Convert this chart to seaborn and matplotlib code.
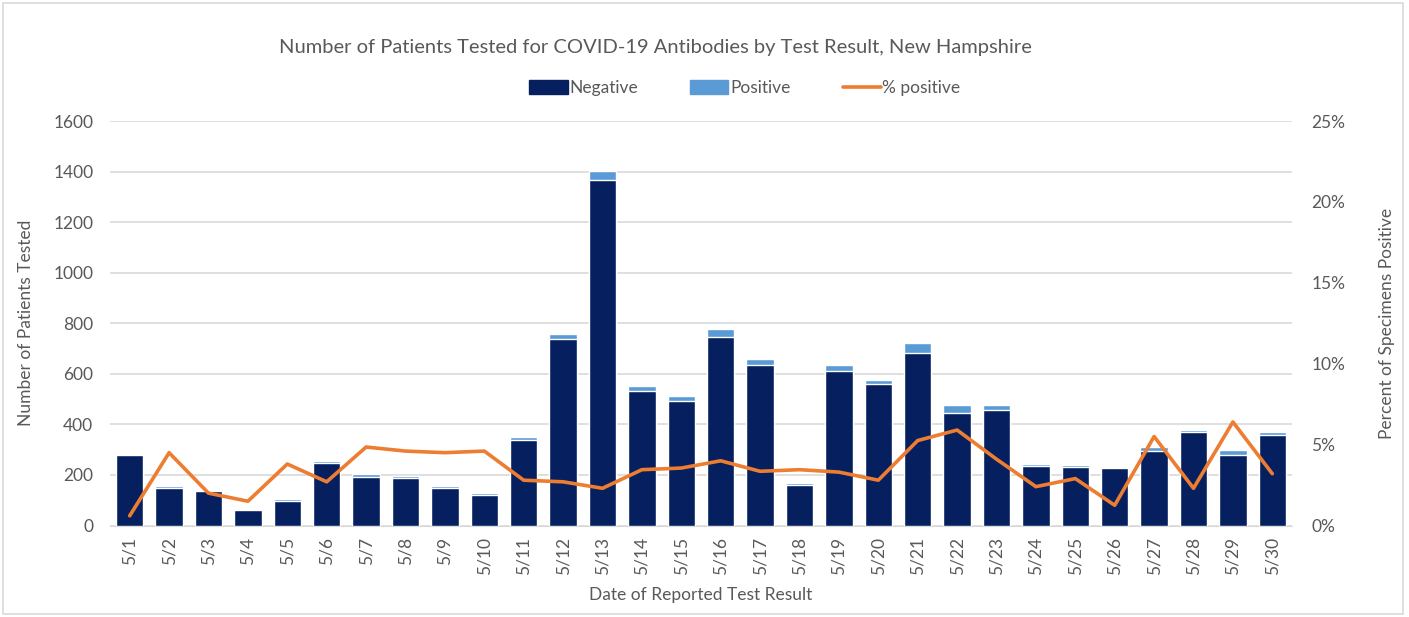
import numpy as np
import pandas as pd
import matplotlib
matplotlib.use("Agg")
import matplotlib.pyplot as plt
import matplotlib.patches as mpatches
import matplotlib.lines as mlines
from matplotlib.ticker import PercentFormatter
import seaborn as sns

# values
dates = ["5/1", "5/2", "5/3", "5/4", "5/5", "5/6", "5/7", "5/8", "5/9", "5/10",
         "5/11", "5/12", "5/13", "5/14", "5/15", "5/16", "5/17", "5/18", "5/19", "5/20",
         "5/21", "5/22", "5/23", "5/24", "5/25", "5/26", "5/27", "5/28", "5/29", "5/30"]
negative = [280, 148, 138, 61, 98, 246, 190, 186, 147, 119,
            340, 738, 1368, 531, 493, 744, 634, 162, 613, 558,
            683, 446, 458, 234, 231, 227, 293, 368, 279, 356]
positive = [3, 9, 4, 2, 5, 9, 12, 10, 9, 8,
            12, 21, 34, 20, 19, 32, 23, 7, 22, 17,
            38, 29, 19, 8, 8, 4, 18, 10, 20, 13]
pct_positive = [0.6, 4.5, 2.0, 1.5, 3.8, 2.7, 4.85, 4.6, 4.5, 4.6,
                2.8, 2.7, 2.3, 3.45, 3.55, 4.0, 3.35, 3.45, 3.3, 2.8,
                5.25, 5.9, 4.1, 2.4, 2.9, 1.25, 5.5, 2.3, 6.4, 3.2]

NAVY = "#06205f"
LIGHT = "#5b9bd5"
ORANGE = "#ed7d31"
GRAY = "#595959"

sns.set_style("white")
plt.rcParams["font.family"] = ["Lato", "DejaVu Sans"]

df = pd.DataFrame({"date": dates, "negative": negative, "positive": positive,
                   "pct": pct_positive})
df["total"] = df["negative"] + df["positive"]
df["pos"] = np.arange(len(df))

fig = plt.figure(figsize=(14.09, 6.17), dpi=100)
ax = fig.add_axes([110 / 1409, 1 - 525.5 / 617, 1182 / 1409, 404.5 / 617])

# stacked bars: total (light) underneath, negative (navy) on top
sns.barplot(data=df, x="date", y="total", color=LIGHT, width=0.7,
            saturation=1, ax=ax, zorder=2)
sns.barplot(data=df, x="date", y="negative", color=NAVY, width=0.7,
            saturation=1, ax=ax, zorder=3)

ax.set_ylim(0, 1600)
ax.set_xlim(-0.5, len(dates) - 0.5)
ax.set_yticks(np.arange(0, 1601, 200))
ax.yaxis.grid(True, color="#d9d9d9", lw=1.2)
ax.set_axisbelow(True)
for s in ["top", "right", "left"]:
    ax.spines[s].set_visible(False)
ax.spines["bottom"].set_color("#d9d9d9")
ax.tick_params(axis="both", length=0, colors=GRAY, labelsize=12.5)
ax.tick_params(axis="x", rotation=90, pad=8)
ax.tick_params(axis="y", pad=12)
ax.set_xlabel("Date of Reported Test Result", fontsize=12.5, color=GRAY, labelpad=9)
ax.set_ylabel("Number of Patients Tested", fontsize=12.5, color=GRAY, labelpad=14)

ax2 = ax.twinx()
sns.lineplot(data=df, x="pos", y="pct", color=ORANGE, lw=2.6, ax=ax2, zorder=4)
ax2.set_ylim(0, 25)
ax2.set_yticks(np.arange(0, 26, 5))
ax2.yaxis.set_major_formatter(PercentFormatter(decimals=0))
ax2.set_xlim(-0.5, len(dates) - 0.5)
for s in ax2.spines.values():
    s.set_visible(False)
ax2.tick_params(axis="y", length=0, colors=GRAY, labelsize=12.5, pad=14)
ax2.set_ylabel("Percent of Specimens Positive", fontsize=12.5, color=GRAY,
               labelpad=24)
ax2.set_xlabel("")

fig.text(655 / 1409, 1 - 48 / 617,
         "Number of Patients Tested for COVID-19 Antibodies by Test Result, New Hampshire",
         ha="center", va="center", fontsize=14.5, color=GRAY)

handles = [mpatches.Patch(color=NAVY, label="Negative"),
           mpatches.Patch(color=LIGHT, label="Positive"),
           mlines.Line2D([], [], color=ORANGE, lw=2.6, label="% positive")]
fig.legend(handles=handles, loc="center", bbox_to_anchor=(745 / 1409, 1 - 88 / 617),
           ncol=3, frameon=False, fontsize=12.5, labelcolor=GRAY,
           handlelength=2.2, handleheight=0.8, handletextpad=0.1, columnspacing=3.0)

fig.patches.append(mpatches.Rectangle((3 / 1409, 3 / 617), 1400 / 1409, 611 / 617,
                                      transform=fig.transFigure, fill=False,
                                      edgecolor="#d9d9d9", lw=1.2))

fig.savefig("out.png", dpi=100)
